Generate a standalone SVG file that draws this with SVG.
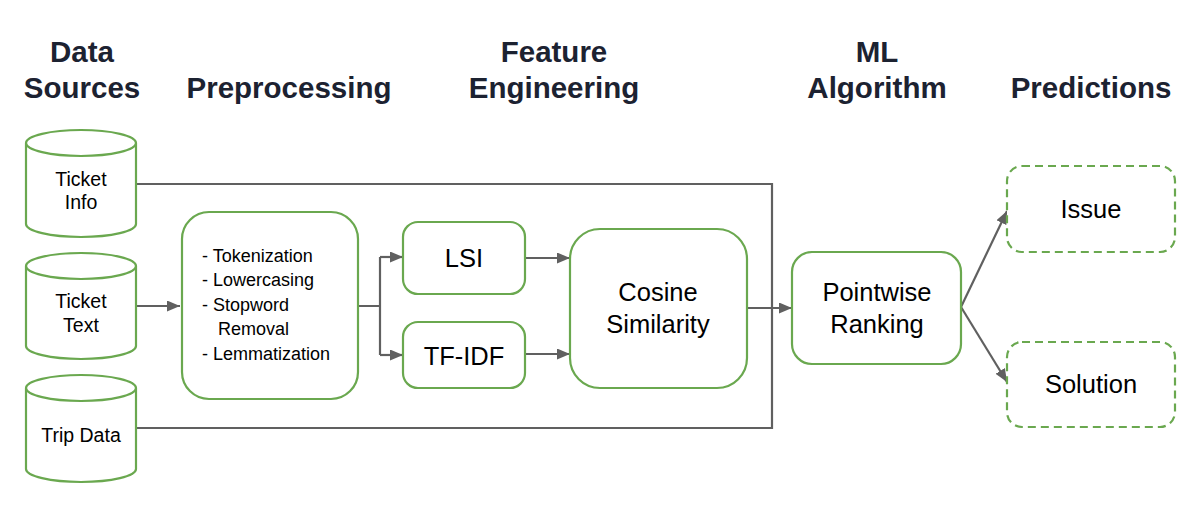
<svg xmlns="http://www.w3.org/2000/svg" width="1200" height="515" viewBox="0 0 1200 515">
<defs>
<marker id="arr" markerUnits="userSpaceOnUse" markerWidth="14" markerHeight="12" refX="13" refY="5.5" orient="auto">
<path d="M0,0 L13,5.5 L0,11 z" fill="#606060"/>
</marker>
<style>
.hdr{font-family:"Liberation Sans",Arial,sans-serif;font-weight:bold;font-size:29.5px;fill:#1c2231;text-anchor:middle}
.node{fill:#fff;stroke:#6aa84f;stroke-width:2.2}
.dash{fill:#fff;stroke:#6aa84f;stroke-width:2.2;stroke-dasharray:8 5}
.t{font-family:"Liberation Sans",Arial,sans-serif;fill:#000;text-anchor:middle}
.s19{font-size:19.5px}
.s17{font-size:18px;text-anchor:start}
.s24{font-size:25.5px}
.conn{fill:none;stroke:#606060;stroke-width:2.2}
</style>
</defs>
<rect width="1200" height="515" fill="#fff"/>
<g id="headers">
<text class="hdr" x="82" y="62">Data</text>
<text class="hdr" x="82" y="98">Sources</text>
<text class="hdr" x="289" y="98">Preprocessing</text>
<text class="hdr" x="554" y="62">Feature</text>
<text class="hdr" x="554" y="98">Engineering</text>
<text class="hdr" x="877" y="62">ML</text>
<text class="hdr" x="877" y="98">Algorithm</text>
<text class="hdr" x="1091" y="98">Predictions</text>
</g>
<g id="connectors">
<path class="conn" d="M136,184 H772 V428 H136"/>
<path class="conn" d="M136,306 H180" marker-end="url(#arr)"/>
<path class="conn" d="M358,306 H380 M380,257 V355"/>
<path class="conn" d="M380,257 H403" marker-end="url(#arr)"/>
<path class="conn" d="M380,355 H403" marker-end="url(#arr)"/>
<path class="conn" d="M525,258 H570" marker-end="url(#arr)"/>
<path class="conn" d="M525,354 H570" marker-end="url(#arr)"/>
<path class="conn" d="M747,308 H792" marker-end="url(#arr)"/>
<path class="conn" d="M961,307 L1007,211" marker-end="url(#arr)"/>
<path class="conn" d="M961,307 L1007,382" marker-end="url(#arr)"/>
</g>
<g id="ticket-info">
<path class="node" d="M26,143 A55,13 0 0,1 136,143 V224 A55,13 0 0,1 26,224 Z M26,143 A55,13 0 0,0 136,143"/>
<text class="t s19" x="81" y="186">Ticket</text>
<text class="t s19" x="81" y="209">Info</text>
</g>
<g id="ticket-text">
<path class="node" d="M26,266 A55,13 0 0,1 136,266 V346 A55,13 0 0,1 26,346 Z M26,266 A55,13 0 0,0 136,266"/>
<text class="t s19" x="81" y="308">Ticket</text>
<text class="t s19" x="81" y="332">Text</text>
</g>
<g id="trip-data">
<path class="node" d="M26,388 A55,13 0 0,1 136,388 V469 A55,13 0 0,1 26,469 Z M26,388 A55,13 0 0,0 136,388"/>
<text class="t s19" x="81" y="442">Trip Data</text>
</g>
<g id="preprocessing">
<rect class="node" x="182" y="212" width="176" height="187" rx="27"/>
<text class="t s17" x="202" y="262">- Tokenization</text>
<text class="t s17" x="202" y="286">- Lowercasing</text>
<text class="t s17" x="202" y="311">- Stopword</text>
<text class="t s17" x="218" y="335">Removal</text>
<text class="t s17" x="202" y="360">- Lemmatization</text>
</g>
<g id="lsi">
<rect class="node" x="403" y="222" width="122" height="72" rx="15"/>
<text class="t s24" x="464" y="267">LSI</text>
</g>
<g id="tfidf">
<rect class="node" x="403" y="322" width="122" height="66" rx="15"/>
<text class="t s24" x="464" y="365">TF-IDF</text>
</g>
<g id="cosine">
<rect class="node" x="570" y="229" width="177" height="159" rx="30"/>
<text class="t s24" x="658" y="301">Cosine</text>
<text class="t s24" x="658" y="333">Similarity</text>
</g>
<g id="pointwise">
<rect class="node" x="792" y="252" width="169" height="112" rx="20"/>
<text class="t s24" x="877" y="301">Pointwise</text>
<text class="t s24" x="877" y="333">Ranking</text>
</g>
<g id="issue">
<rect class="dash" x="1007" y="166" width="168" height="86" rx="15"/>
<text class="t s24" x="1091" y="218">Issue</text>
</g>
<g id="solution">
<rect class="dash" x="1007" y="342" width="168" height="85" rx="15"/>
<text class="t s24" x="1091" y="393">Solution</text>
</g>
</svg>
